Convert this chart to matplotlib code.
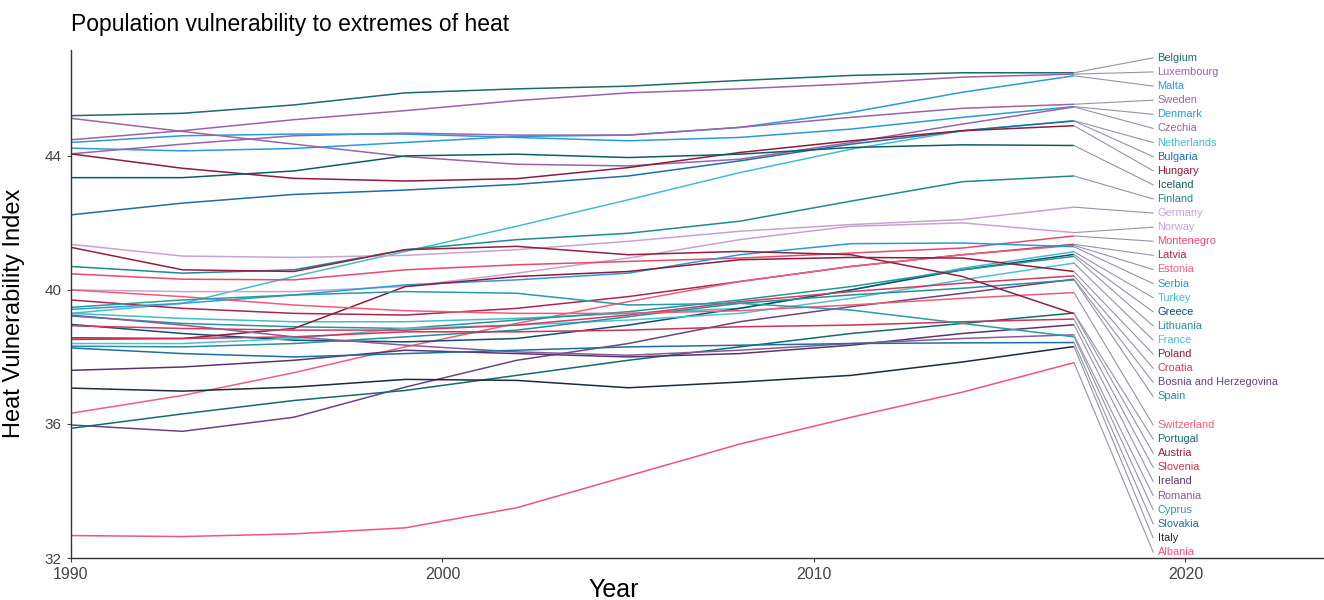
import matplotlib.pyplot as plt

plt.rcParams['font.family'] = ['Liberation Sans', 'DejaVu Sans']

years = [1990, 1993, 1996, 1999, 2002, 2005, 2008, 2011, 2014, 2017]

# heat vulnerability index per country (label order, top to bottom)
belgium = [45.20, 45.27, 45.52, 45.88, 46.00, 46.08, 46.25, 46.40, 46.48, 46.48]
luxembourg = [44.48, 44.75, 45.08, 45.35, 45.65, 45.88, 46.00, 46.15, 46.35, 46.44]
malta = [44.23, 44.15, 44.22, 44.40, 44.58, 44.62, 44.85, 45.30, 45.90, 46.39]
sweden = [44.06, 44.35, 44.60, 44.68, 44.62, 44.62, 44.85, 45.15, 45.42, 45.54]
denmark = [44.40, 44.60, 44.65, 44.65, 44.55, 44.45, 44.55, 44.80, 45.15, 45.47]
czechia = [45.12, 44.73, 44.35, 43.98, 43.75, 43.70, 43.90, 44.40, 44.95, 45.46]
netherlands = [39.30, 39.60, 40.40, 41.15, 41.90, 42.69, 43.50, 44.20, 44.75, 45.05]
bulgaria = [42.24, 42.59, 42.85, 42.98, 43.15, 43.40, 43.85, 44.35, 44.75, 45.04]
hungary = [44.06, 43.63, 43.33, 43.25, 43.32, 43.65, 44.10, 44.45, 44.75, 44.90]
iceland = [43.35, 43.35, 43.55, 44.00, 44.05, 43.95, 44.05, 44.25, 44.33, 44.31]
finland = [40.70, 40.50, 40.60, 41.20, 41.50, 41.69, 42.05, 42.65, 43.23, 43.40]
germany = [41.36, 41.01, 40.97, 41.03, 41.20, 41.45, 41.75, 41.95, 42.10, 42.47]
norway = [40.00, 39.95, 39.95, 40.10, 40.50, 40.95, 41.50, 41.90, 42.00, 41.71]
montenegro = [40.48, 40.32, 40.30, 40.60, 40.75, 40.85, 40.95, 41.10, 41.25, 41.61]
latvia = [39.70, 39.45, 39.30, 39.25, 39.45, 39.80, 40.25, 40.70, 41.05, 41.36]
estonia = [36.32, 36.85, 37.53, 38.30, 39.00, 39.65, 40.25, 40.70, 41.05, 41.33]
serbia = [39.42, 39.60, 39.85, 40.15, 40.30, 40.50, 41.05, 41.38, 41.40, 41.29]
turkey = [39.30, 39.15, 39.05, 39.05, 39.15, 39.30, 39.45, 40.00, 40.65, 41.14]
greece = [38.97, 38.70, 38.50, 38.45, 38.55, 38.95, 39.45, 40.00, 40.60, 41.06]
lithuania = [39.22, 39.00, 38.90, 38.85, 39.10, 39.35, 39.70, 40.10, 40.60, 41.00]
france = [38.40, 38.40, 38.55, 38.85, 38.95, 39.10, 39.30, 39.75, 40.30, 40.80]
poland = [38.57, 38.55, 38.85, 40.10, 40.40, 40.55, 40.90, 40.97, 40.95, 40.55]
croatia = [38.93, 38.85, 38.80, 38.80, 38.95, 39.25, 39.65, 39.95, 40.20, 40.42]
bosnia = [35.97, 35.78, 36.20, 37.10, 37.90, 38.40, 39.05, 39.50, 39.90, 40.32]
spain = [38.32, 38.30, 38.40, 38.60, 38.80, 39.20, 39.60, 39.85, 40.05, 40.30]
switzerland = [40.00, 39.80, 39.55, 39.38, 39.30, 39.30, 39.38, 39.55, 39.75, 39.92]
portugal = [35.87, 36.30, 36.70, 37.00, 37.45, 37.90, 38.30, 38.70, 39.00, 39.31]
austria = [41.27, 40.60, 40.55, 41.20, 41.30, 41.05, 41.15, 41.05, 40.40, 39.29]
slovenia = [38.52, 38.55, 38.60, 38.75, 38.75, 38.80, 38.90, 38.95, 39.05, 39.13]
ireland = [37.60, 37.70, 37.90, 38.20, 38.10, 38.00, 38.10, 38.35, 38.70, 38.96]
romania = [39.25, 38.95, 38.60, 38.35, 38.15, 38.05, 38.20, 38.40, 38.55, 38.66]
cyprus = [39.48, 39.70, 39.85, 39.95, 39.90, 39.55, 39.60, 39.40, 39.00, 38.60]
slovakia = [38.27, 38.10, 38.00, 38.10, 38.20, 38.30, 38.35, 38.40, 38.42, 38.43]
italy = [37.07, 36.98, 37.10, 37.33, 37.30, 37.08, 37.25, 37.45, 37.85, 38.31]
albania = [32.67, 32.64, 32.72, 32.90, 33.50, 34.45, 35.40, 36.20, 36.95, 37.83]

countries = ["Belgium", "Luxembourg", "Malta", "Sweden", "Denmark", "Czechia",
             "Netherlands", "Bulgaria", "Hungary", "Iceland", "Finland",
             "Germany", "Norway", "Montenegro", "Latvia", "Estonia", "Serbia",
             "Turkey", "Greece", "Lithuania", "France", "Poland", "Croatia",
             "Bosnia and Herzegovina", "Spain", "Switzerland", "Portugal",
             "Austria", "Slovenia", "Ireland", "Romania", "Cyprus", "Slovakia",
             "Italy", "Albania"]
series = [belgium, luxembourg, malta, sweden, denmark, czechia, netherlands,
          bulgaria, hungary, iceland, finland, germany, norway, montenegro,
          latvia, estonia, serbia, turkey, greece, lithuania, france, poland,
          croatia, bosnia, spain, switzerland, portugal, austria, slovenia,
          ireland, romania, cyprus, slovakia, italy, albania]
colors = ["#1d6b6b", "#9b63a8", "#2a9bd8", "#9b63a8", "#2a9bd8", "#9b63a8",
          "#44bccb", "#1f6ea5", "#8c1c3c", "#0f5e5e", "#1e8a8c",
          "#c9a2d2", "#c9a2d2", "#e8496d", "#a8284c", "#ee5f7f", "#2a9bd8",
          "#44bccb", "#114e70", "#26959a", "#4cc4d0", "#8c1c3c", "#d43a5e",
          "#6e4381", "#23919a", "#f05c78", "#136b6b",
          "#93203f", "#cc3355", "#5a3470", "#8a5a98", "#2a9aa5", "#1e6fa0",
          "#1c2c3c", "#f0557a"]

fig = plt.figure(figsize=(13.24, 6.0), dpi=100)
ax = fig.add_axes([0.0536, 0.07, 0.9464, 0.8467])

for vals, col in zip(series, colors):
    ax.plot(years, vals, color=col, lw=1.1, solid_capstyle="butt")

# labels stacked at the right: an upper block and a lower block
step = 0.421
n_top = 25
label_x = 2019.25
for i, (name, vals, col) in enumerate(zip(countries, series, colors)):
    if i < n_top:
        ly = 46.925 - i * step
    else:
        ly = 32.18 + (len(countries) - 1 - i) * step
    ax.plot([years[-1], label_x - 0.12], [vals[-1], ly], color="#9494a8", lw=0.8)
    ax.text(label_x, ly, name, color=col, fontsize=7.9, va="center", ha="left")

ax.set_xlim(1990, 2023.73)
ax.set_ylim(32, 47.16)
ax.set_xticks([1990, 2000, 2010, 2020])
ax.set_yticks([32, 36, 40, 44])
ax.tick_params(labelsize=11, colors="#444444", length=3, width=0.8)
ax.tick_params(axis="x", labelsize=11.5)

for side in ["top", "right"]:
    ax.spines[side].set_visible(False)
for side in ["left", "bottom"]:
    ax.spines[side].set_color("#333333")
    ax.spines[side].set_linewidth(1.0)

ax.set_xlabel("Year", fontsize=18)
ax.xaxis.set_label_coords(0.433, -0.04)
ax.set_ylabel("Heat Vulnerability Index", fontsize=17)
ax.yaxis.set_label_coords(-0.0367, 0.482)
fig.text(71 / 1324, 1 - 25 / 600, "Population vulnerability to extremes of heat",
         fontsize=16.5, va="center", ha="left")

fig.savefig("out.png", dpi=100)
